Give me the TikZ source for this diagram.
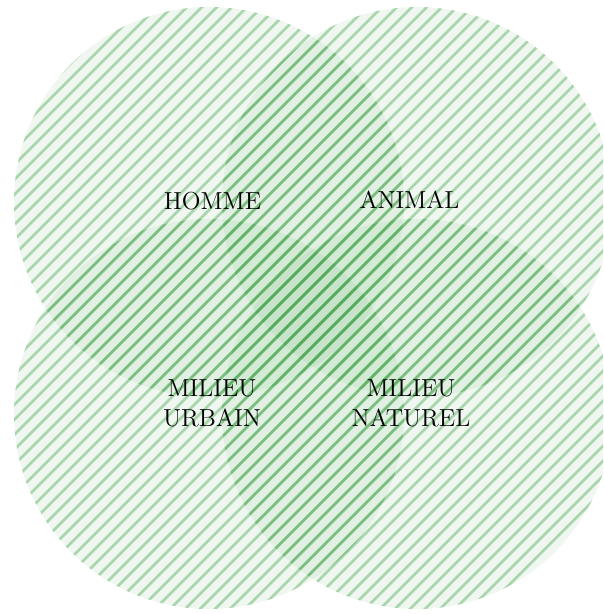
\documentclass[tikz,border=0pt]{standalone}
\usepackage{xcolor}
\usepackage{tikz}
\definecolor{venngreen}{RGB}{70,165,78}
\tikzset{
  setlabel/.style={font=\fontsize{14}{17}\selectfont, align=center, text=black, inner sep=0pt}
}

\begin{document}
\begin{tikzpicture}
  \useasboundingbox (0,0) rectangle (12.06,12.28);
  \clip (0,0) rectangle (12.06,12.28);
  % four hatched discs
  \foreach \cx/\cy in {4.18/8.24, 8.34/8.24, 4.18/4.00, 8.34/4.00} {
    \fill[venngreen, fill opacity=0.085] (\cx,\cy) circle (3.9);
    \begin{scope}
      \clip (\cx,\cy) circle (3.9);
      \foreach \k in {-43,...,43}
        \draw[venngreen, draw opacity=0.42, line width=1.5pt]
          (\k*0.3-1,-1) -- ++(15,15);
    \end{scope}
  }
  \node[setlabel] (homme)   at (4.25,8.25) {HOMME};
  \node[setlabel] (animal)  at (8.19,8.28) {ANIMAL};
  \node[setlabel] (urbain)  at (4.24,4.22) {MILIEU\\URBAIN};
  \node[setlabel] (naturel) at (8.22,4.22) {MILIEU\\NATUREL};
\end{tikzpicture}
\end{document}
